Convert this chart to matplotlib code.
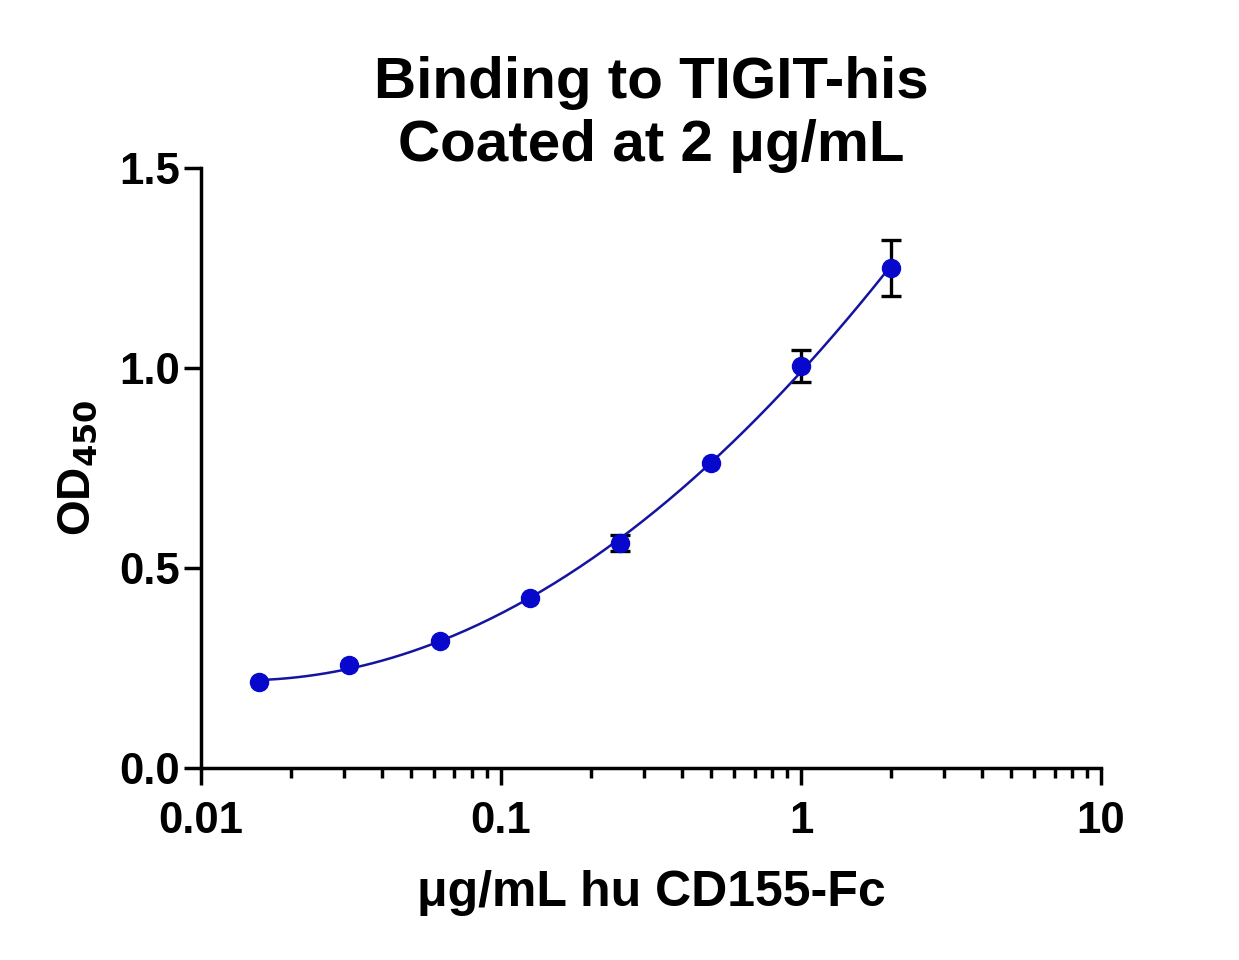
import numpy as np
import matplotlib
matplotlib.use("Agg")
import matplotlib.pyplot as plt
from matplotlib.ticker import LogLocator, FixedLocator, NullFormatter

plt.rcParams['font.family'] = ['Liberation Sans', 'DejaVu Sans']
plt.rcParams['font.weight'] = 'bold'

# data
conc = [0.015625, 0.03125, 0.0625, 0.125, 0.25, 0.5, 1.0, 2.0]
od450 = [0.215, 0.257, 0.318, 0.425, 0.563, 0.762, 1.005, 1.250]
od_err = [0.0, 0.0, 0.0, 0.0, 0.02, 0.0, 0.04, 0.07]

title_lines = ["Binding to TIGIT-his", "Coated at 2 \u03bcg/mL"]
xlabel = "\u03bcg/mL hu CD155-Fc"
xticks = [0.01, 0.1, 1, 10]
xtick_labels = ["0.01", "0.1", "1", "10"]
yticks = [0.0, 0.5, 1.0, 1.5]

blue = '#0808cc'
line_blue = '#1414a0'

fig = plt.figure(figsize=(12.39, 9.6), dpi=100)
ax = fig.add_axes([0.1622, 0.2, 0.8886 - 0.1622, 0.625])

# smooth fitted curve (cubic in log concentration)
lx = np.log10(conc)
coef = np.polyfit(lx, od450, 3)
xs = np.linspace(lx.min(), lx.max(), 200)
ax.plot(10 ** xs, np.polyval(coef, xs), color=line_blue, lw=1.8, zorder=2)

# error bars only where the spread is visible
has_err = [e > 0 for e in od_err]
ex = [c for c, h in zip(conc, has_err) if h]
ey = [v for v, h in zip(od450, has_err) if h]
ee = [e for e, h in zip(od_err, has_err) if h]
ax.errorbar(ex, ey, yerr=ee, fmt='none', ecolor='black',
            elinewidth=2.4, capsize=7.5, capthick=2.4, zorder=1)
ax.plot(conc, od450, 'o', color=blue, ms=13, zorder=3)

ax.set_xscale('log')
ax.set_xlim(0.01, 10)
ax.set_ylim(0, 1.5)
ax.xaxis.set_major_locator(FixedLocator(xticks))
ax.set_xticklabels(xtick_labels)
ax.xaxis.set_minor_locator(LogLocator(base=10, subs=np.arange(2, 10)))
ax.xaxis.set_minor_formatter(NullFormatter())
ax.set_yticks(yticks)
ax.set_yticklabels([f"{v:.1f}" for v in yticks])

for s in ['top', 'right']:
    ax.spines[s].set_visible(False)
for s in ['left', 'bottom']:
    ax.spines[s].set_linewidth(2.5)

ax.tick_params(axis='both', which='major', length=12, width=2.5,
               labelsize=31.5, direction='out')
ax.tick_params(axis='x', which='major', pad=12)
ax.tick_params(axis='y', which='major', pad=3)
ax.tick_params(axis='x', which='minor', length=7, width=2.5, direction='out')

ax.set_xlabel(xlabel, fontsize=36, fontweight='bold', labelpad=20)
ax.set_ylabel("OD$_{\\mathbf{450}}$", fontsize=33, fontweight='bold', labelpad=14)
# fixed y stops the title being pushed up by the "1.5" tick label
ax.set_title("\n".join(title_lines), fontsize=42, fontweight='bold',
             linespacing=1.22, y=1.0, pad=5)

fig.savefig("out.png", dpi=100)
